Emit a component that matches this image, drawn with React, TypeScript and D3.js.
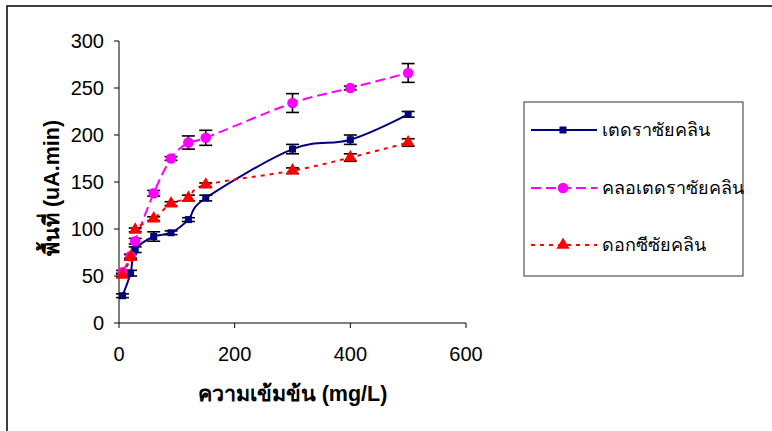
import React from "react";
import * as d3 from "d3";

// concentrations (mg/L)
const concentrations = [6, 20, 28, 60, 90, 120, 150, 300, 400, 500];

const tetra = [29, 53, 78, 92, 96, 110, 133, 185, 195, 222];
const tetraErr = [2, 3, 3, 5, 2, 2, 3, 5, 5, 3];

const chlortetra = [54, 71, 87, 138, 175, 192, 197, 234, 250, 266];
const chlortetraErr = [2, 2, 3, 3, 2, 7, 8, 10, 2, 10];

const doxy = [51, 70, 99, 111, 127, 133, 147, 162, 176, 192];
const doxyErr = [2, 3, 2, 2, 2, 3, 2, 3, 4, 4];

const yTicks = [0, 50, 100, 150, 200, 250, 300];
const xTicks = [0, 200, 400, 600];

const seriesNames = ["เตดราซัยคลิน", "คลอเตดราซัยคลิน", "ดอกซีซัยคลิน"];

const width = 772;
const height = 431;
const plot = { left: 119, right: 466, top: 41, bottom: 323 };
const font = "'Liberation Sans', Arial, 'DejaVu Sans', sans-serif";

const series = [
  { name: seriesNames[0], values: tetra, err: tetraErr, color: "#000080", dash: null, marker: "square" },
  { name: seriesNames[1], values: chlortetra, err: chlortetraErr, color: "#FF00FF", dash: "10,5", marker: "circle" },
  { name: seriesNames[2], values: doxy, err: doxyErr, color: "#FF0000", dash: "4,5", marker: "triangle" },
];

function Marker({ type, cx, cy, color }: { type: string; cx: number; cy: number; color: string }) {
  if (type === "square") {
    return <rect x={cx - 3.5} y={cy - 3.5} width={7} height={7} fill={color} />;
  }
  if (type === "circle") {
    return <circle cx={cx} cy={cy} r={5.3} fill={color} />;
  }
  const tri = d3.symbol().type(d3.symbolTriangle).size(75)();
  return <path d={tri || ""} transform={`translate(${cx},${cy})`} fill={color} />;
}

export default function App() {
  const x = d3.scaleLinear().domain([0, 600]).range([plot.left, plot.right]);
  const y = d3.scaleLinear().domain([0, 300]).range([plot.bottom, plot.top]);

  const line = d3
    .line<number>()
    .x((_, i) => x(concentrations[i]))
    .y((d) => y(d))
    .curve(d3.curveCardinal.tension(0));

  const legendX = 524;
  const legendY = 102;
  const legendRows = [130, 188, 245];

  return (
    <svg
      width={width}
      height={height}
      style={{ position: "absolute", left: 0, top: 0, background: "#fff" }}
      fontFamily={font}
    >
      {/* outer chart frame */}
      <rect x={7} y={6} width={900} height={600} fill="none" stroke="#000" strokeWidth={1.5} />

      {/* axes */}
      <line x1={plot.left} x2={plot.left} y1={plot.top} y2={plot.bottom} stroke="#000" />
      <line x1={plot.left} x2={plot.right} y1={plot.bottom} y2={plot.bottom} stroke="#000" />
      {yTicks.map((t) => (
        <g key={"y" + t}>
          <line x1={plot.left - 5} x2={plot.left} y1={y(t)} y2={y(t)} stroke="#000" />
          <text x={plot.left - 15} y={y(t)} dy="0.35em" textAnchor="end" fontSize={20}>
            {t}
          </text>
        </g>
      ))}
      {xTicks.map((t) => (
        <g key={"x" + t}>
          <line x1={x(t)} x2={x(t)} y1={plot.bottom} y2={plot.bottom + 5} stroke="#000" />
          <text x={x(t)} y={361} textAnchor="middle" fontSize={20}>
            {t}
          </text>
        </g>
      ))}

      <text x={(plot.left + plot.right) / 2} y={401} textAnchor="middle" fontSize={21.5} fontWeight="bold">
        ความเข้มข้น (mg/L)
      </text>
      <text
        transform={`translate(59,${(plot.top + plot.bottom) / 2 + 6}) rotate(-90)`}
        textAnchor="middle"
        fontSize={21.5}
        fontWeight="bold"
      >
        พื้นที่ (uA.min)
      </text>

      {/* lines */}
      {series.map((s) => (
        <path
          key={"l" + s.name}
          d={line(s.values) || ""}
          fill="none"
          stroke={s.color}
          strokeWidth={2}
          strokeDasharray={s.dash || undefined}
        />
      ))}

      {/* error bars */}
      {series.map((s) =>
        s.values.map((v, i) => {
          const cx = x(concentrations[i]);
          const y1 = y(v - s.err[i]);
          const y2 = y(v + s.err[i]);
          return (
            <g key={"e" + s.name + i} stroke="#000" strokeWidth={1.6}>
              <line x1={cx} x2={cx} y1={y1} y2={y2} />
              <line x1={cx - 6.5} x2={cx + 6.5} y1={y1} y2={y1} />
              <line x1={cx - 6.5} x2={cx + 6.5} y1={y2} y2={y2} />
            </g>
          );
        })
      )}

      {/* markers */}
      {series.map((s) =>
        s.values.map((v, i) => (
          <Marker key={"m" + s.name + i} type={s.marker} cx={x(concentrations[i])} cy={y(v)} color={s.color} />
        ))
      )}

      {/* legend */}
      <rect x={legendX} y={legendY} width={219} height={174} fill="#fff" stroke="#333" strokeWidth={1} />
      {series.map((s, i) => (
        <g key={"lg" + s.name}>
          <line
            x1={531}
            x2={597}
            y1={legendRows[i]}
            y2={legendRows[i]}
            stroke={s.color}
            strokeWidth={2}
            strokeDasharray={s.dash || undefined}
          />
          <Marker type={s.marker} cx={563} cy={legendRows[i]} color={s.color} />
          <text x={602} y={legendRows[i]} dy="0.35em" fontSize={18}>
            {s.name}
          </text>
        </g>
      ))}
    </svg>
  );
}
